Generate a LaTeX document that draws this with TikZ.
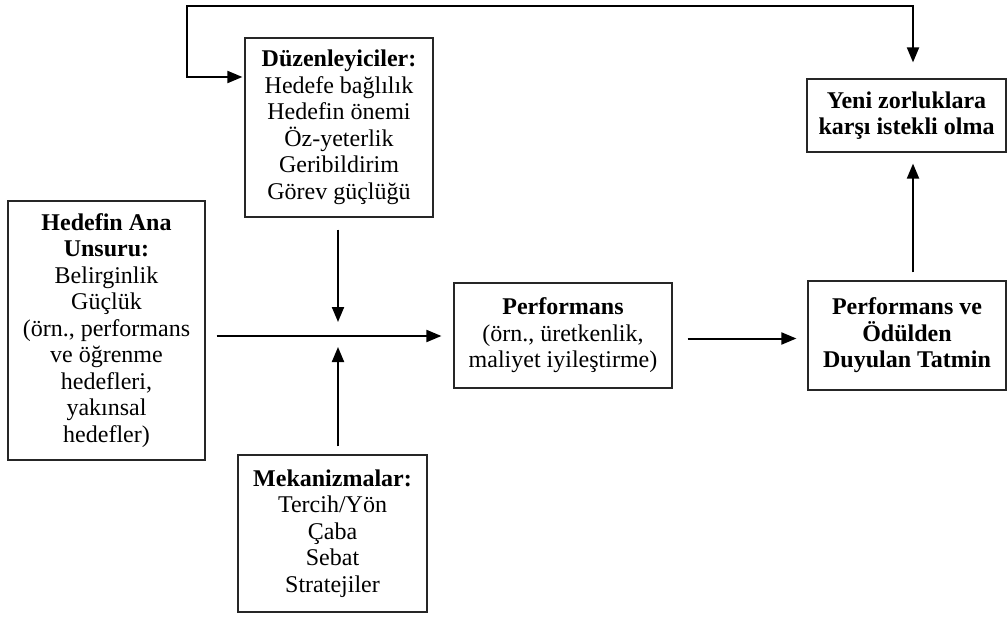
\documentclass[tikz,border=0pt]{standalone}
\usepackage{fontspec}
\setmainfont{Liberation Serif}
\usetikzlibrary{arrows.meta}
\begin{document}
\begin{tikzpicture}[x=1pt,y=-1pt,
  >={Triangle[length=15pt,width=12pt]},
  box/.style={draw=black!85, line width=1.2pt, align=center, inner sep=0pt,
    font=\fontsize{24}{26.5}\selectfont},
  arr/.style={line width=2pt, ->},
]
\useasboundingbox (0,0) rectangle (1008,617);

% boxes
\node[box, minimum width=188, minimum height=179] (duz) at (339,127.5)
  {\textbf{Düzenleyiciler:}\\Hedefe bağlılık\\Hedefin önemi\\Öz-yeterlik\\Geribildirim\\Görev güçlüğü};
\node[box, minimum width=197, minimum height=259] (hed) at (106.5,330.5)
  {\textbf{Hedefin Ana}\\\textbf{Unsuru:}\\Belirginlik\\Güçlük\\(örn., performans\\ve öğrenme\\hedefleri,\\yakınsal\\hedefler)};
\node[box, minimum width=189, minimum height=157] (mek) at (332.5,533.5)
  {\textbf{Mekanizmalar:}\\Tercih/Yön\\Çaba\\Sebat\\Stratejiler};
\node[box, minimum width=218, minimum height=105] (perf) at (563,335.5)
  {\textbf{Performans}\\(örn., üretkenlik,\\maliyet iyileştirme)};
\node[box, minimum width=198, minimum height=109] (tat) at (907,335.5)
  {\textbf{Performans ve}\\\textbf{Ödülden}\\\textbf{Duyulan Tatmin}};
\node[box, minimum width=199, minimum height=73] (yeni) at (906.5,115.5)
  {\textbf{Yeni zorluklara}\\\textbf{karşı istekli olma}};

% junction where the moderators and mechanisms meet the main line
\coordinate (j) at (338,336);
\coordinate (fbL) at (187,77);
\coordinate (fbTL) at (187,6);
\coordinate (fbTR) at (913,6);

% connectors
\draw[arr, shorten <=12pt, shorten >=14pt] (j |- duz.south) -- (j);
\draw[arr, shorten <=8pt, shorten >=11pt] (j |- mek.north) -- (j);
\draw[arr, shorten <=11pt, shorten >=12pt] (hed.east |- j) -- (perf.west |- j);
\draw[arr, shorten <=15pt, shorten >=11pt] ([yshift=-3pt]perf.east) -- ([yshift=-3pt]tat.west);
\draw[arr, shorten <=8pt, shorten >=11pt] (fbTR |- tat.north) -- (fbTR |- yeni.south);
\draw[line width=2pt, <->, shorten <=2pt, shorten >=16pt]
  (duz.west |- fbL) -- (fbL) -- (fbTL) -- (fbTR) -- (fbTR |- yeni.north);
\end{tikzpicture}
\end{document}
